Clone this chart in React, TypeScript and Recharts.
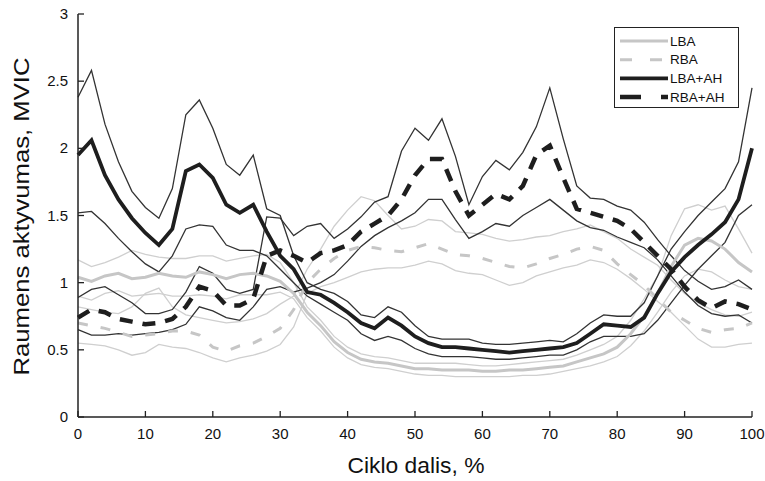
import { LineChart, Line, XAxis, YAxis, Legend } from 'recharts'

// cycle position, % (sampled every 2 %)
const cycle = [
  0, 2, 4, 6, 8, 10, 12, 14, 16, 18, 20, 22, 24, 26, 28, 30, 32, 34, 36, 38, 40,
  42, 44, 46, 48, 50, 52, 54, 56, 58, 60, 62, 64, 66, 68, 70, 72, 74, 76, 78, 80,
  82, 84, 86, 88, 90, 92, 94, 96, 98, 100,
]

// LBA – mean and +/- SD
const lba = [
  1.04, 1.01, 1.05, 1.07, 1.03, 1.04, 1.07, 1.05, 1.04, 1.08, 1.06, 1.03, 1.06,
  1.07, 1.05, 1.01, 0.92, 0.78, 0.68, 0.56, 0.48, 0.43, 0.41, 0.4, 0.38, 0.36,
  0.36, 0.35, 0.35, 0.35, 0.34, 0.34, 0.35, 0.35, 0.36, 0.37, 0.38, 0.41, 0.44,
  0.47, 0.52, 0.62, 0.75, 0.92, 1.12, 1.28, 1.33, 1.31, 1.25, 1.15, 1.08,
]
const lbaHi = [
  1.17, 1.12, 1.15, 1.19, 1.24, 1.21, 1.19, 1.18, 1.18, 1.2, 1.2, 1.16, 1.18,
  1.2, 1.21, 1.15, 1.0, 0.82, 0.72, 0.6, 0.52, 0.47, 0.45, 0.44, 0.42, 0.4, 0.4,
  0.4, 0.4, 0.39, 0.38, 0.38, 0.39, 0.4, 0.41, 0.42, 0.43, 0.46, 0.5, 0.54, 0.6,
  0.72, 0.88, 1.05, 1.35, 1.55, 1.58, 1.54, 1.57, 1.4, 1.22,
]
const lbaLo = [
  0.9, 0.87, 0.92, 0.94, 0.9, 0.91, 0.92, 0.9, 0.9, 0.91, 0.9, 0.88, 0.91, 0.91,
  0.91, 0.93, 0.88, 0.74, 0.64, 0.52, 0.44, 0.39, 0.37, 0.36, 0.34, 0.32, 0.31,
  0.31, 0.3, 0.3, 0.3, 0.3, 0.3, 0.31, 0.31, 0.32, 0.34, 0.36, 0.38, 0.41, 0.45,
  0.53, 0.64, 0.78, 0.93, 1.05, 1.1, 1.08, 1.02, 0.97, 0.95,
]

// RBA – mean and +/- SD
const rba = [
  0.7, 0.68, 0.66, 0.63, 0.6, 0.61, 0.62, 0.64, 0.64, 0.61, 0.52, 0.49, 0.53,
  0.55, 0.6, 0.66, 0.8, 1.0, 1.1, 1.18, 1.24, 1.27, 1.26, 1.24, 1.23, 1.26, 1.29,
  1.25, 1.21, 1.2, 1.18, 1.15, 1.12, 1.11, 1.14, 1.18, 1.21, 1.25, 1.27, 1.24,
  1.14, 1.06, 0.98, 0.88, 0.78, 0.72, 0.66, 0.63, 0.65, 0.66, 0.7,
]
const rbaHi = [
  0.82, 0.8, 0.78, 0.77, 0.82, 0.92, 0.96, 0.82, 0.76, 0.74, 0.72, 0.7, 0.71,
  0.73, 0.77, 0.84, 0.9, 1.1, 1.25, 1.42, 1.54, 1.64, 1.61, 1.5, 1.4, 1.42, 1.47,
  1.46, 1.38, 1.37, 1.36, 1.33, 1.31, 1.32, 1.34, 1.35, 1.38, 1.4, 1.43, 1.38,
  1.33, 1.25, 1.19, 1.13, 1.02, 0.92, 0.85, 0.8, 0.76, 0.75, 0.78,
]
const rbaLo = [
  0.55, 0.54, 0.53, 0.5, 0.46, 0.48, 0.54, 0.52, 0.51, 0.48, 0.44, 0.41, 0.44,
  0.46, 0.49, 0.54, 0.67, 0.92, 0.97, 1.0, 1.04, 1.08, 1.1, 1.11, 1.11, 1.13,
  1.16, 1.14, 1.09, 1.07, 1.06, 1.02, 0.98, 1.0, 1.05, 1.08, 1.11, 1.13, 1.17,
  1.15, 1.1, 1.03, 0.95, 0.86, 0.78, 0.68, 0.58, 0.52, 0.52, 0.54, 0.55,
]

// LBA+AH – mean and +/- SD
const lbaAh = [
  1.95, 2.06, 1.8, 1.62, 1.48, 1.37, 1.28, 1.4, 1.83, 1.88, 1.78, 1.58, 1.52,
  1.58, 1.38, 1.2, 1.1, 0.93, 0.91, 0.85, 0.78, 0.7, 0.66, 0.74, 0.68, 0.6, 0.55,
  0.52, 0.52, 0.51, 0.5, 0.49, 0.48, 0.49, 0.5, 0.51, 0.52, 0.55, 0.62, 0.69,
  0.68, 0.67, 0.74, 0.92, 1.08, 1.19, 1.28, 1.36, 1.45, 1.62, 2.0,
]
const lbaAhHi = [
  2.38, 2.58, 2.18, 1.9, 1.68, 1.56, 1.48, 1.7, 2.25, 2.36, 2.15, 1.88, 1.8,
  1.95, 1.55, 1.5, 1.2, 1.0, 0.95, 0.92, 0.86, 0.76, 0.74, 0.82, 0.78, 0.68, 0.6,
  0.58, 0.58, 0.58, 0.55, 0.54, 0.54, 0.55, 0.56, 0.57, 0.56, 0.62, 0.7, 0.76,
  0.75, 0.75, 0.85, 1.05, 1.25, 1.38, 1.5, 1.6, 1.7, 1.9, 2.45,
]
const lbaAhLo = [
  1.52, 1.53, 1.44, 1.33, 1.23, 1.14, 1.08, 1.2, 1.4, 1.43, 1.42, 1.28, 1.24,
  1.24, 1.2, 1.1, 1.0, 0.9, 0.84, 0.78, 0.72, 0.62, 0.57, 0.6, 0.57, 0.51, 0.47,
  0.45, 0.45, 0.45, 0.44, 0.43, 0.43, 0.44, 0.45, 0.46, 0.46, 0.5, 0.56, 0.6,
  0.6, 0.6, 0.62, 0.72, 0.85, 0.98, 1.1, 1.2, 1.3, 1.5, 1.58,
]

// RBA+AH – mean and +/- SD
const rbaAh = [
  0.74, 0.8, 0.78, 0.73, 0.71, 0.69, 0.7, 0.73, 0.82, 0.97, 0.94, 0.83, 0.83,
  0.88, 1.2, 1.24, 1.2, 1.15, 1.22, 1.24, 1.28, 1.38, 1.44, 1.5, 1.62, 1.8, 1.92,
  1.92, 1.68, 1.5, 1.58, 1.66, 1.62, 1.72, 1.95, 2.02, 1.78, 1.55, 1.52, 1.49,
  1.46, 1.4, 1.3, 1.2, 1.1, 0.97, 0.87, 0.81, 0.86, 0.84, 0.8,
]
const rbaAhHi = [
  0.89, 0.95, 0.97, 0.91, 0.85, 0.77, 0.77, 0.8, 0.93, 1.12, 1.07, 0.95, 0.92,
  0.95, 1.49, 1.48, 1.35, 1.42, 1.44, 1.33, 1.4, 1.49, 1.6, 1.64, 1.98, 2.15,
  2.06, 2.22, 1.94, 1.58, 1.79, 1.91, 1.84, 1.97, 2.16, 2.45, 2.07, 1.72, 1.63,
  1.62, 1.57, 1.54, 1.45, 1.32, 1.2, 1.09, 1.01, 0.95, 0.97, 1.02, 0.95,
]
const rbaAhLo = [
  0.65, 0.61, 0.61, 0.62, 0.61, 0.62, 0.63, 0.65, 0.69, 0.82, 0.79, 0.74, 0.72,
  0.82, 0.95, 0.97, 0.93, 0.96, 1.0, 1.06, 1.16, 1.27, 1.35, 1.41, 1.46, 1.52,
  1.62, 1.62, 1.47, 1.33, 1.38, 1.44, 1.42, 1.5, 1.56, 1.62, 1.54, 1.46, 1.41,
  1.39, 1.34, 1.3, 1.26, 1.17, 1.05, 0.93, 0.83, 0.77, 0.75, 0.76, 0.7,
]

const xTicks = [0, 10, 20, 30, 40, 50, 60, 70, 80, 90, 100]
const yTicks = [0, 0.5, 1, 1.5, 2, 2.5, 3]

const data = cycle.map((c, i) => ({
  cycle: c,
  lba: lba[i],
  lbaHi: lbaHi[i],
  lbaLo: lbaLo[i],
  rba: rba[i],
  rbaHi: rbaHi[i],
  rbaLo: rbaLo[i],
  lbaAh: lbaAh[i],
  lbaAhHi: lbaAhHi[i],
  lbaAhLo: lbaAhLo[i],
  rbaAh: rbaAh[i],
  rbaAhHi: rbaAhHi[i],
  rbaAhLo: rbaAhLo[i],
}))

const FONT = '"Liberation Sans", Arial, sans-serif'
const INK = '#222'
const LIGHT = '#c6c6c6'
const LIGHT_THIN = '#cfcfcf'
const DARK = '#1e1e1e'
const DARK_THIN = '#333'

// SD bands, drawn thin and underneath the means
const bands = [
  { key: 'lbaHi', color: LIGHT_THIN },
  { key: 'lbaLo', color: LIGHT_THIN },
  { key: 'rbaHi', color: LIGHT_THIN },
  { key: 'rbaLo', color: LIGHT_THIN },
  { key: 'lbaAhHi', color: DARK_THIN },
  { key: 'lbaAhLo', color: DARK_THIN },
  { key: 'rbaAhHi', color: DARK_THIN },
  { key: 'rbaAhLo', color: DARK_THIN },
]

const means = [
  { key: 'lba', name: 'LBA', color: LIGHT, width: 3, dash: undefined, legendDash: undefined },
  { key: 'rba', name: 'RBA', color: LIGHT, width: 3, dash: '10 13', legendDash: '12 18' },
  { key: 'lbaAh', name: 'LBA+AH', color: DARK, width: 3.8, dash: undefined, legendDash: undefined },
  { key: 'rbaAh', name: 'RBA+AH', color: DARK, width: 4.5, dash: '13 10', legendDash: '21 20' },
]

const BottomTick = ({ x, y, payload }: any) => (
  <g>
    <line x1={x} x2={x} y1={y} y2={y - 6} stroke={INK} strokeWidth={1.3} />
    <text x={x} y={y + 22} textAnchor="middle" fontSize={15} fontFamily={FONT} fill="#111">
      {payload.value}
    </text>
  </g>
)

const TopTick = ({ x, y }: any) => (
  <line x1={x} x2={x} y1={y} y2={y + 6} stroke={INK} strokeWidth={1.3} />
)

const LeftTick = ({ x, y, payload }: any) => (
  <g>
    <line x1={x} x2={x + 6} y1={y} y2={y} stroke={INK} strokeWidth={1.3} />
    <text x={x - 10} y={y + 5} textAnchor="end" fontSize={15} fontFamily={FONT} fill="#111">
      {payload.value}
    </text>
  </g>
)

const RightTick = ({ x, y }: any) => (
  <line x1={x} x2={x - 6} y1={y} y2={y} stroke={INK} strokeWidth={1.3} />
)

const LegendBox = () => (
  <div
    style={{
      width: 125,
      height: 81,
      boxSizing: 'border-box',
      border: `1.5px solid ${INK}`,
      background: '#fff',
    }}
  >
    <svg width={122} height={78} style={{ display: 'block' }}>
      {means.map((m, i) => {
        const cy = 13 + i * 18.7
        return (
          <g key={m.key}>
            <line
              x1={5}
              x2={53}
              y1={cy}
              y2={cy}
              stroke={m.color}
              strokeWidth={m.width}
              strokeDasharray={m.legendDash}
            />
            <text x={55} y={cy + 4.5} fontSize={13.5} fontFamily={FONT} fill="#111">
              {m.name}
            </text>
          </g>
        )
      })}
    </svg>
  </div>
)

export default function App() {
  return (
    <div style={{ position: 'absolute', left: 0, top: 0, width: 765, height: 481, background: '#fff' }}>
      <LineChart
        width={765}
        height={481}
        data={data}
        margin={{ top: 14, right: 13, bottom: 34, left: 38 }}
      >
        <XAxis
          dataKey="cycle"
          type="number"
          domain={[0, 100]}
          ticks={xTicks}
          interval={0}
          height={30}
          axisLine={{ stroke: INK, strokeWidth: 1.5 }}
          tickLine={false}
          tickSize={0}
          tickMargin={0}
          tick={<BottomTick />}
          label={{
            content: ({ viewBox }: any) => (
              <text
                x={viewBox.x + viewBox.width / 2 + 1}
                y={viewBox.y + 56}
                textAnchor="middle"
                fontSize={22}
                fontFamily={FONT}
                fill="#111"
                textLength={137}
                lengthAdjust="spacingAndGlyphs"
              >
                Ciklo dalis, %
              </text>
            ),
          }}
        />
        <XAxis
          xAxisId="top"
          orientation="top"
          dataKey="cycle"
          type="number"
          domain={[0, 100]}
          ticks={xTicks}
          interval={0}
          height={0}
          axisLine={{ stroke: INK, strokeWidth: 1.5 }}
          tickLine={false}
          tickSize={0}
          tickMargin={0}
          tick={<TopTick />}
        />
        <YAxis
          type="number"
          domain={[0, 3]}
          ticks={yTicks}
          interval={0}
          width={40}
          axisLine={{ stroke: INK, strokeWidth: 1.5 }}
          tickLine={false}
          tickSize={0}
          tickMargin={0}
          tick={<LeftTick />}
          label={{
            content: ({ viewBox }: any) => {
              const cx = 29
              const cy = viewBox.y + viewBox.height / 2 + 1
              return (
                <text
                  x={cx}
                  y={cy}
                  transform={`rotate(-90 ${cx} ${cy})`}
                  textAnchor="middle"
                  fontSize={22}
                  fontFamily={FONT}
                  fill="#111"
                  textLength={318}
                  lengthAdjust="spacingAndGlyphs"
                >
                  Raumens aktyvumas, MVIC
                </text>
              )
            },
          }}
        />
        <YAxis
          yAxisId="right"
          orientation="right"
          type="number"
          domain={[0, 3]}
          ticks={yTicks}
          interval={0}
          width={0}
          axisLine={{ stroke: INK, strokeWidth: 1.5 }}
          tickLine={false}
          tickSize={0}
          tickMargin={0}
          tick={<RightTick />}
        />
        <Legend
          layout="horizontal"
          align="center"
          verticalAlign="middle"
          content={<LegendBox />}
          wrapperStyle={{ position: 'absolute', left: 614, top: 27, width: 125, height: 81 }}
        />
        {bands.map((b) => (
          <Line
            key={b.key}
            dataKey={b.key}
            type="linear"
            stroke={b.color}
            strokeWidth={1.3}
            dot={false}
            activeDot={false}
            legendType="none"
            isAnimationActive={false}
          />
        ))}
        {means.map((m) => (
          <Line
            key={m.key}
            dataKey={m.key}
            name={m.name}
            type="linear"
            stroke={m.color}
            strokeWidth={m.width}
            strokeDasharray={m.dash}
            dot={false}
            activeDot={false}
            isAnimationActive={false}
          />
        ))}
      </LineChart>
    </div>
  )
}
